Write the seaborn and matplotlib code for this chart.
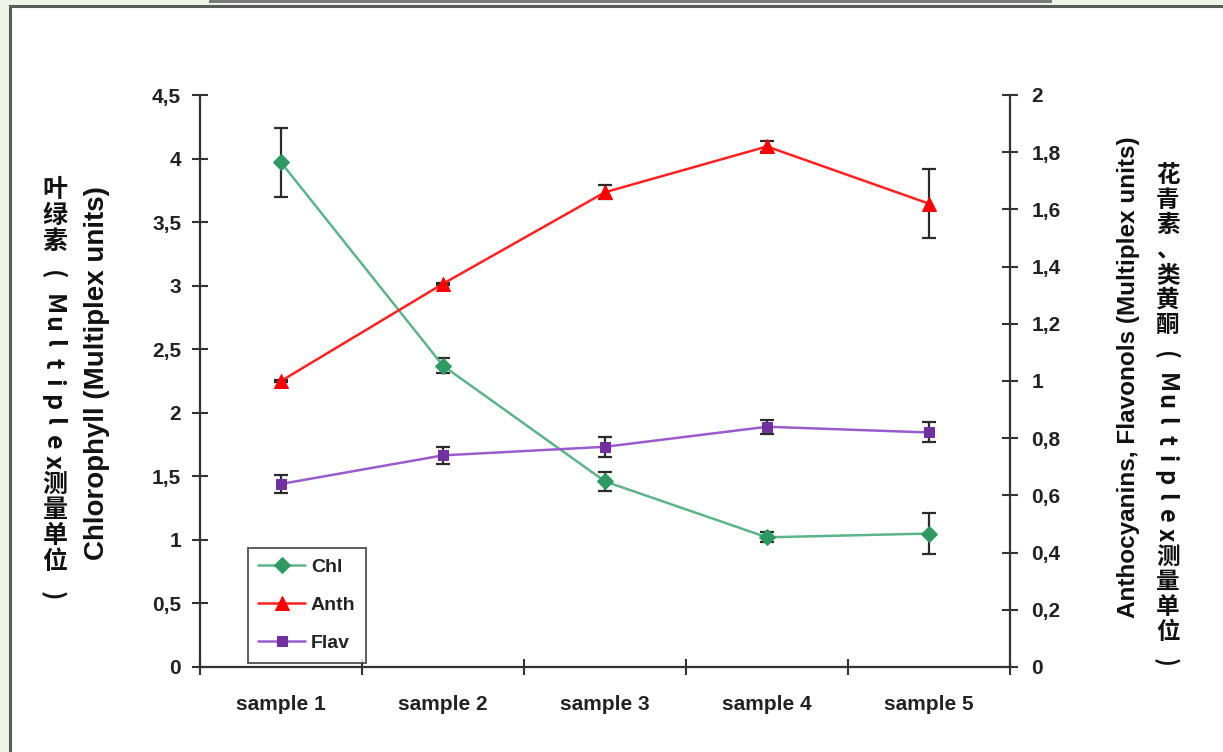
"""
Chlorophyll / anthocyanins / flavonols by sample, dual y axis with error bars
"""
import numpy as np
import pandas as pd
import matplotlib
matplotlib.use("Agg")
import matplotlib.pyplot as plt
from matplotlib.patches import Rectangle
import seaborn as sns

# ── Data ─────────────────────────────────────────────────────────────────────
samples   = ["sample 1", "sample 2", "sample 3", "sample 4", "sample 5"]
chl       = [3.97, 2.37, 1.46, 1.02, 1.05]
chl_err   = [0.27, 0.06, 0.075, 0.04, 0.16]
anth      = [1.00, 1.34, 1.66, 1.82, 1.62]
anth_err  = [0.003, 0.003, 0.025, 0.02, 0.12]
flav      = [0.64, 0.74, 0.77, 0.84, 0.82]
flav_err  = [0.03, 0.03, 0.035, 0.025, 0.035]
left_ticks  = [0, 0.5, 1, 1.5, 2, 2.5, 3, 3.5, 4, 4.5]
right_ticks = [0, 0.2, 0.4, 0.6, 0.8, 1, 1.2, 1.4, 1.6, 1.8, 2]

df = pd.DataFrame({"pos": np.arange(len(samples)), "sample": samples,
                   "Chl": chl, "Anth": anth, "Flav": flav})

# ── Style ────────────────────────────────────────────────────────────────────
sns.set_theme(style="white")
plt.rcParams["font.family"] = ["Liberation Sans", "Noto Sans CJK SC", "DejaVu Sans"]
CJK = ["Noto Sans CJK SC", "DejaVu Sans"]
W, H = 1223, 752
AX_COL = "#333333"
ERR_COL = "#2b2b2b"

fig = plt.figure(figsize=(W / 100, H / 100), dpi=100)
fig.patch.set_facecolor("white")

# slide-like frame around the chart
fig.patches.append(Rectangle((0, 0), 10 / W, 1, transform=fig.transFigure,
                             facecolor="#eff5e6", edgecolor="none", zorder=0))
fig.patches.append(Rectangle((0, 1 - 6 / H), 1, 6 / H, transform=fig.transFigure,
                             facecolor="#eff5e6", edgecolor="none", zorder=0))
fig.patches.append(Rectangle((209 / W, 1 - 3 / H), (1052 - 209) / W, 3 / H,
                             transform=fig.transFigure, facecolor="#7a7a7a",
                             edgecolor="none", zorder=1))
fig.patches.append(Rectangle((10.5 / W, -0.01), 1.1, 1 - 6 / H + 0.01,
                             transform=fig.transFigure, facecolor="none",
                             edgecolor="#5a5a5a", linewidth=2.2, zorder=1))

ax = fig.add_axes([200 / W, 85 / H, 810 / W, 572 / H])
ax.set_facecolor("none")
ax2 = ax.twinx()

# ── Chlorophyll (left axis) ──────────────────────────────────────────────────
ax.errorbar(df["pos"], chl, yerr=chl_err, fmt="none", ecolor=ERR_COL,
            elinewidth=1.6, capsize=5, capthick=1.6, zorder=2)
sns.lineplot(data=df, x="pos", y="Chl", ax=ax, color="#5cb589", linewidth=1.8,
             marker="D", markersize=8.5, markerfacecolor="#2e9a62",
             markeredgecolor="#2e9a62", label="Chl", legend=False, zorder=3)

# ── Anthocyanins / flavonols (right axis) ────────────────────────────────────
ax2.errorbar(df["pos"], anth, yerr=anth_err, fmt="none", ecolor=ERR_COL,
             elinewidth=1.6, capsize=5, capthick=1.6, zorder=2)
ax2.errorbar(df["pos"], flav, yerr=flav_err, fmt="none", ecolor=ERR_COL,
             elinewidth=1.6, capsize=5, capthick=1.6, zorder=2)
sns.lineplot(data=df, x="pos", y="Anth", ax=ax2, color="#ff2020", linewidth=1.8,
             marker="^", markersize=10, markerfacecolor="#ff0000",
             markeredgecolor="#ff0000", label="Anth", legend=False, zorder=3)
sns.lineplot(data=df, x="pos", y="Flav", ax=ax2, color="#9a5ccc", linewidth=1.8,
             marker="s", markersize=7, markerfacecolor="#7030a0",
             markeredgecolor="#7030a0", label="Flav", legend=False, zorder=3)

# ── Axes ─────────────────────────────────────────────────────────────────────
def comma(v):
    return f"{v:g}".replace(".", ",")

ax.set_xlim(-0.5, len(samples) - 0.5)
ax.set_ylim(0, 4.5)
ax2.set_ylim(0, 2)
ax.set_yticks(left_ticks)
ax.set_yticklabels([comma(v) for v in left_ticks])
ax2.set_yticks(right_ticks)
ax2.set_yticklabels([comma(v) for v in right_ticks])

ax.set_xticks(np.arange(-0.5, len(samples), 1.0))
ax.set_xticklabels([""] * (len(samples) + 1))
ax.set_xticks(np.arange(len(samples)), minor=True)
ax.set_xticklabels(samples, minor=True, fontsize=15, fontweight="bold", color="#222")
ax.tick_params(axis="x", which="minor", length=0, pad=20)
ax.tick_params(axis="x", which="major", direction="inout", length=12, width=1.5,
               color=AX_COL, bottom=True)
ax.tick_params(axis="y", direction="inout", length=11, width=1.5, color=AX_COL,
               left=True, labelsize=15, pad=8, labelcolor="#222")
ax2.tick_params(axis="y", direction="inout", length=11, width=1.5, color=AX_COL,
                right=True, labelsize=15, pad=10, labelcolor="#222")
for lbl in ax.get_yticklabels() + ax2.get_yticklabels():
    lbl.set_fontweight("bold")

ax.set_xlabel("")
ax.set_ylabel("")
ax2.set_ylabel("")
ax.grid(False)
ax2.grid(False)
for a in (ax, ax2):
    for s in a.spines.values():
        s.set_color(AX_COL)
        s.set_linewidth(1.6)
    a.spines["top"].set_visible(False)
ax.spines["right"].set_visible(False)
ax2.spines["left"].set_visible(False)
ax2.spines["bottom"].set_visible(False)

# ── Legend ───────────────────────────────────────────────────────────────────
h1, l1 = ax.get_legend_handles_labels()
h2, l2 = ax2.get_legend_handles_labels()
leg = ax2.legend(h1 + h2, l1 + l2, loc="lower left", bbox_to_anchor=(0.059, 0.007),
                 borderaxespad=0, frameon=True, fancybox=False, shadow=False,
                 fontsize=14, handlelength=2.4, handletextpad=0.3,
                 labelspacing=1.06, borderpad=0.55)
leg.get_frame().set_edgecolor("#333")
leg.get_frame().set_linewidth(1.4)
for t in leg.get_texts():
    t.set_fontweight("bold")
    t.set_color("#222")

# ── Axis titles ──────────────────────────────────────────────────────────────
fig.text(97 / W, 1 - 373 / H, "Chlorophyll (Multiplex units)", rotation=90,
         ha="center", va="center", fontsize=20, fontweight="bold", color="#111")
fig.text(1128 / W, 1 - 377 / H, "Anthocyanins, Flavonols (Multiplex units)",
         rotation=90, ha="center", va="center", fontsize=17.5, fontweight="bold",
         color="#111")


def vertical_text(text, xc, y0, size, adv_cjk, adv_paren, adv_lat):
    """stack characters top-to-bottom like vertical CJK typesetting"""
    y, prev = y0, None
    for ch in text:
        if ch in "()":
            w = adv_paren
        elif ch.isascii():
            w = adv_lat
        else:
            w = adv_cjk
        if prev is not None:
            y += (prev + w) / 2
        prev = w
        if ch.isascii():
            fig.text(xc / W, 1 - y / H, ch, rotation=-90, rotation_mode="anchor",
                     ha="center", va="center_baseline", fontsize=size,
                     family=CJK, fontweight="bold", color="#111")
        else:
            fig.text(xc / W, 1 - y / H, ch, ha="center", va="center",
                     fontsize=size, family=CJK, fontweight="bold", color="#111")


vertical_text("叶绿素(Multiplex测量单位)", 55, 190, 18, 26, 40, 19.6)
vertical_text("花青素、类黄酮(Multiplex测量单位)", 1168, 175, 17, 25, 36, 19)

fig.savefig("out.png", dpi=100)
